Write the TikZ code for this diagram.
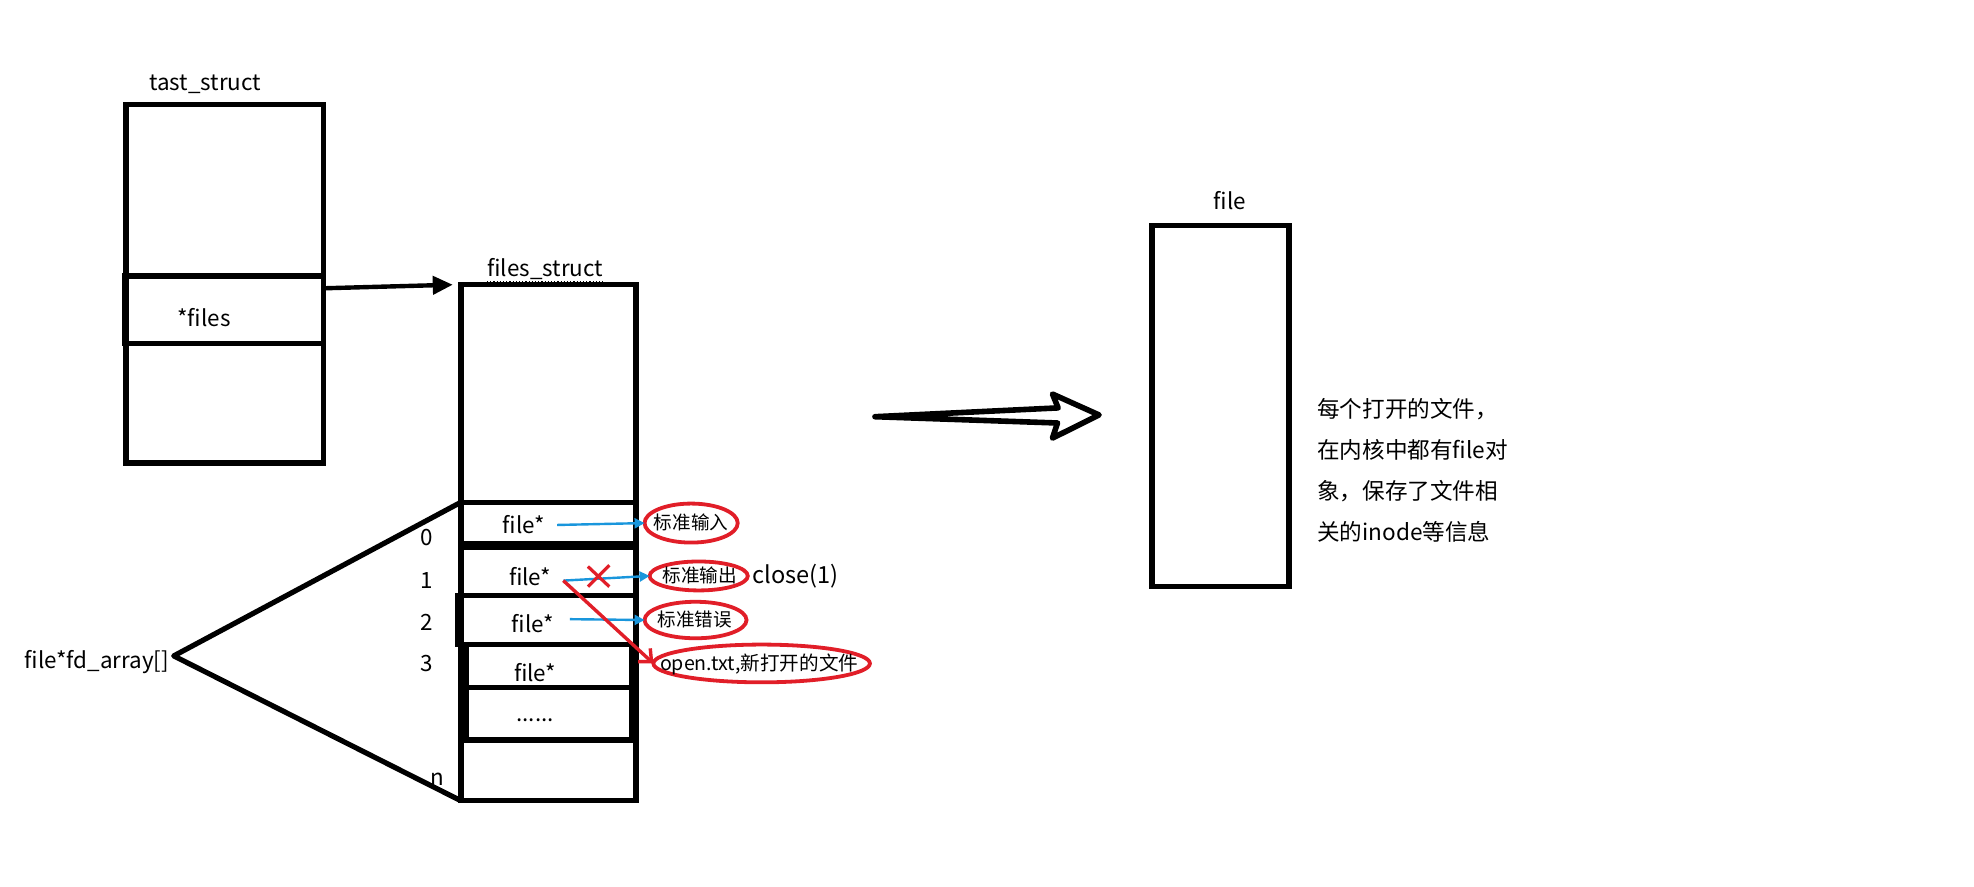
\documentclass[tikz,border=0pt]{standalone}
\usepackage{fontspec}
\setmainfont{Noto Sans CJK SC}
\usetikzlibrary{shapes.geometric,arrows.meta,calc}
\definecolor{myblue}{RGB}{25,150,220}
\definecolor{myred}{RGB}{225,30,40}
\def\pu{0.6295pt}
\begin{document}
\begin{tikzpicture}[x=0.6295pt,y=-0.6295pt,
  box/.style={draw, line width=2.8pt, inner sep=0, outer sep=0},
  lbl/.style={font=\fontsize{11.2}{13}\selectfont, inner sep=0},
  cjk/.style={font=\fontsize{9.3}{11}\selectfont, inner sep=0},
  ell/.style={ellipse, draw=myred, line width=1.9pt, inner sep=0, outer sep=0},
  barrow/.style={myblue, line width=1.2pt, -{Triangle[length=5pt,width=5pt]}},
  rarrow/.style={myred, line width=1.7pt, -{Straight Barb[length=5pt,width=9pt]}},
  karrow/.style={black, line width=2.2pt, -{Triangle[length=10pt,width=9pt]}}]
\fill[white] (0,0) rectangle (1568,704);
\useasboundingbox (0,0) rectangle (1568,704);

% task_struct
\node[box, minimum width=157*\pu, minimum height=285*\pu] (tast) at (178.5,225.5) {};
\node[box, minimum width=158*\pu, minimum height=54*\pu] (filesrow) at (178,246) {};
\node[lbl] (tastlbl) at (163,67) {tast\_struct};
\node[lbl] (filestxt) at (162,252) {*files};

% files_struct
\node[box, minimum width=139*\pu, minimum height=410*\pu] (fs) at (435.5,431) {};
\node[lbl] (fslbl) at (433,214) {files\_struct};
\draw[densely dotted, line width=0.6pt] ([yshift=-2.5pt]fslbl.base west) -- ([yshift=-2.5pt]fslbl.base east);
\node[box, minimum width=139*\pu, minimum height=33*\pu] (c0) at (435.5,415.5) {};
\node[box, minimum width=139*\pu, minimum height=38*\pu] (c1) at (435.5,454) {};
\fill[black] (c0.south west) rectangle (c1.north east);
\node[box, minimum width=141*\pu, minimum height=39*\pu] (c2) at (434.5,492.5) {};
\node[box, minimum width=132*\pu, minimum height=34*\pu] (c3) at (436,529) {};
\node[box, minimum width=132*\pu, minimum height=42*\pu] (c4) at (436,567) {};
\node[box, minimum width=139*\pu, minimum height=48*\pu] (c5) at (435.5,612) {};

\draw[karrow, shorten >=4pt] ($(filesrow.north east)+(0,10)$) -- (fs.north west);

% fd array
\coordinate (apex) at (138,521);
\draw[line width=2.6pt, line join=round] (c0.north west) -- (apex) -- (c5.south west);
\node[lbl] (arrlbl) at (77,526) {file*fd\_array[]};
\node[lbl] (n0) at (339,427) {0};
\node[lbl] (n1) at (339,461) {1};
\node[lbl] (n2) at (339,494) {2};
\node[lbl] (n3) at (339,527) {3};
\node[lbl] (nn) at (347,619) {n};

\node[lbl] (f0) at (416,417) {file*};
\node[lbl] (f1) at (421,458) {file*};
\node[lbl] (f2) at (423,495) {file*};
\node[lbl] (f3) at (425,534) {file*};
\node[lbl] (fdots) at (425,572) {......};

% targets
\node[ell, minimum width=74*\pu, minimum height=31*\pu] (in0) at (549,415.5) {};
\node[ell, minimum width=78*\pu, minimum height=23*\pu] (out1) at (555,457.5) {};
\node[ell, minimum width=81*\pu, minimum height=29*\pu] (err2) at (552.5,492.5) {};
\node[ell, minimum width=172*\pu, minimum height=30*\pu] (op) at (605,527) {};
\node[cjk] (tin) at (549,415) {标准输入};
\node[cjk] (tout) at (556,457) {标准输出};
\node[cjk] (terr) at (552,492) {标准错误};
\node[cjk, font=\fontsize{9.8}{11}\selectfont] (top) at (603,528) {open.txt,新打开的文件};
\node[lbl, font=\fontsize{11.8}{13}\selectfont] (close) at (632,458) {close(1)};

\draw[barrow] ([xshift=6pt]f0.east) -- (in0.west);
\draw[barrow] ([xshift=6pt,yshift=-2pt]f1.east) -- (out1.west);
\draw[barrow] ([xshift=8pt,yshift=2pt]f2.east) -- (err2.west);
\draw[rarrow] ([xshift=6pt,yshift=-2pt]f1.east) -- (op.west);
\draw[myred, line width=1.6pt] (467,450) -- (484,466) (467,466) -- (484,449);

% big hollow arrow
\draw[line width=2.8pt, line join=round, line cap=round]
  (695,331) -- (840.5,324) -- (836,313) -- (873,329.6) -- (836,348) -- (840,336) -- cycle;

% file object
\node[box, minimum width=109*\pu, minimum height=287*\pu] (file) at (969.5,322.5) {};
\node[lbl] (filelbl) at (977,159) {file};
\node[anchor=west, align=left, inner sep=0, font=\fontsize{11.3}{20.5}\selectfont] (desc) at (1046,373.5)
  {每个打开的文件，\\在内核中都有file对\\象，保存了文件相\\关的inode等信息};
\end{tikzpicture}
\end{document}
